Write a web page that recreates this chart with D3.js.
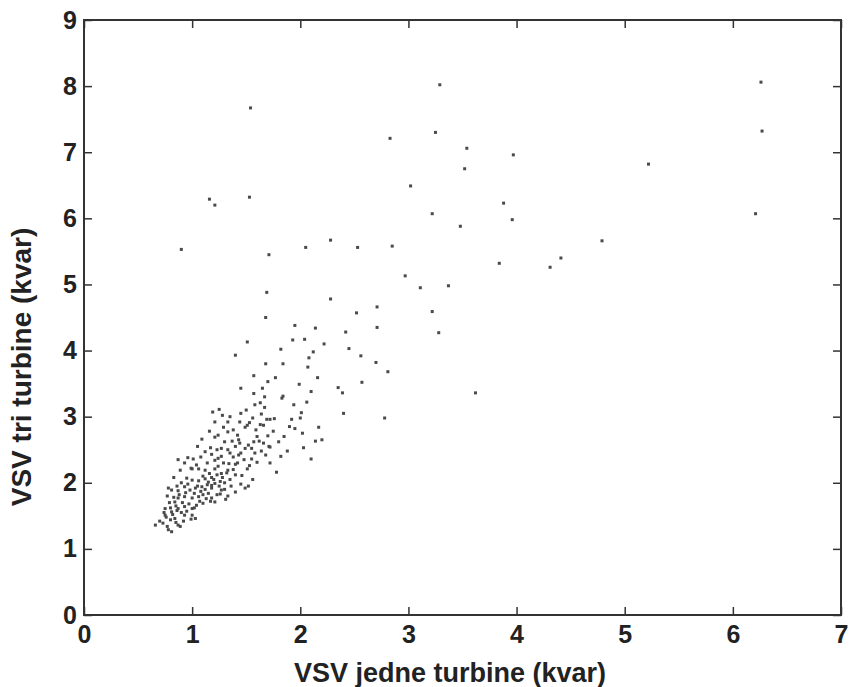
<!DOCTYPE html>
<html>
<head>
<meta charset="utf-8">
<script src="https://cdn.jsdelivr.net/npm/d3@7"></script>
<style>
  html, body { margin: 0; padding: 0; background: #fff; }
  svg { display: block; }
</style>
</head>
<body>
<svg id="chart" width="849" height="687"></svg>
<script>
// ---- data (x = VSV jedne turbine, y = VSV tri turbine), kvar ----
const xTicks = [0, 1, 2, 3, 4, 5, 6, 7];
const yTicks = [0, 1, 2, 3, 4, 5, 6, 7, 8, 9];
const xTitle = "VSV jedne turbine (kvar)";
const yTitle = "VSV tri turbine (kvar)";

const upperPoints = [
  [1.54,7.67],[3.29,8.02],[6.26,8.06],[6.27,7.32],[5.22,6.82],[6.21,6.07],[3.97,6.96],
  [3.88,6.23],[3.96,5.98],[4.79,5.66],[4.41,5.40],[4.31,5.26],[3.84,5.32],[3.25,7.30],
  [2.83,7.21],[3.54,7.06],[3.52,6.75],[3.02,6.49],[3.22,6.07],[3.48,5.88],[2.28,5.67],
  [2.05,5.56],[2.53,5.56],[2.85,5.58],[2.97,5.13],[3.11,4.95],[3.37,4.98],[1.16,6.29],
  [1.21,6.20],[1.53,6.32],[0.90,5.53],[1.71,5.45]
];

const midPoints = [
  [2.28,4.78],[2.52,4.57],[2.71,4.66],[3.22,4.59],[2.71,4.35],[3.28,4.27],[2.14,4.34],
  [2.42,4.28],[2.04,4.17],[2.22,4.10],[2.12,3.98],[2.45,4.03],[2.56,3.92],[2.08,3.89],
  [1.69,4.88],[1.68,4.50],[1.95,4.38],[1.51,4.13],[1.93,4.16],[1.40,3.93],[1.82,4.02],
  [2.70,3.82],[2.81,3.68],[1.68,3.80],[1.84,3.80],[2.07,3.75],[1.57,3.62],[1.77,3.59],
  [1.70,3.53],[2.16,3.59],[2.57,3.52],[1.45,3.43],[1.65,3.43],[1.99,3.49],[2.35,3.44],
  [2.39,3.36],[2.10,3.38],[1.57,3.35],[1.67,3.30],[1.84,3.31],[3.62,3.36],[2.78,2.98],
  [2.40,3.05],[2.17,2.84],[2.20,2.65],[2.00,2.98],[2.06,3.22]
];

const clusterPoints = [
  [1.83,3.28],[1.63,3.21],[1.94,3.18],[1.67,3.14],[1.50,3.10],[2.01,3.06],[1.64,3.04],
  [1.69,2.96],[1.72,2.96],[1.76,2.97],[1.92,2.96],[1.33,2.92],[1.44,2.92],[1.53,2.91],
  [1.51,2.87],[1.49,2.84],[1.63,2.88],[1.66,2.87],[1.59,2.80],[1.33,2.77],[1.70,2.71],
  [1.37,2.63],[1.43,2.65],[1.44,2.60],[1.57,2.62],[1.62,2.63],[1.52,2.57],[1.49,2.52],
  [1.40,2.55],[1.71,2.55],[2.03,2.53],[1.33,2.50],[2.14,2.63],[2.10,2.36],[1.72,2.54],
  [1.78,2.16],[1.60,2.31],[1.55,2.36],[1.51,2.21],[1.46,2.11],[1.40,2.12],[1.49,1.92],
  [1.52,1.95],[1.33,1.80],[1.34,2.29],[1.40,2.28],[1.38,2.39],[1.43,2.42],[1.55,2.52],
  [1.33,2.19],[1.25,3.11],[1.19,3.07],[1.21,2.92],[1.16,2.78],[1.21,2.69],[1.09,2.66],
  [1.17,2.53],[1.23,2.50],[1.27,2.52],[1.08,2.39],[0.96,2.38],[1.01,2.36],[1.21,2.34],
  [1.24,2.37],[0.99,2.22],[1.06,2.21],[1.12,2.19],[1.21,2.21],[1.24,2.25],
  [1.30,2.62],[1.24,2.72],[1.29,2.84],[1.38,2.80],[1.42,2.72],[1.35,3.00],[1.28,3.02],
  [1.58,3.18],[1.56,2.98],[1.45,3.05],[1.60,2.70],[1.66,2.60],[1.75,2.78],[1.80,2.62],
  [1.85,2.70],[1.88,2.48],[1.82,2.40],[1.95,2.82],[2.02,2.75],[1.90,2.85],[1.72,2.30],
  [1.68,2.42],[1.64,2.48],[1.58,2.45],[1.53,2.26],[1.56,2.05],[1.45,1.98],[1.40,1.86]
];

const densePoints = [
  [0.89,2.19],[1.00,2.21],[0.83,2.08],[0.95,2.07],[1.00,2.04],[1.06,2.03],[1.12,2.06],
  [1.18,2.08],[1.23,2.12],[1.27,2.14],[0.78,1.92],[0.81,1.89],[0.87,1.88],[0.93,1.94],
  [0.98,1.89],[1.03,1.92],[1.09,1.94],[1.14,1.97],[1.18,1.92],[1.21,1.99],[1.26,2.02],
  [1.27,1.89],[1.23,1.82],[1.18,1.77],[1.15,1.84],[1.10,1.82],[1.06,1.79],[1.00,1.77],
  [0.93,1.79],[0.87,1.77],[0.84,1.71],[0.75,1.61],[0.81,1.56],[0.87,1.61],[0.93,1.64],
  [1.00,1.61],[1.04,1.66],[1.10,1.69],[1.17,1.72],[1.21,1.71],[0.66,1.36],[0.73,1.39],
  [0.77,1.34],[0.78,1.29],[0.80,1.44],[0.84,1.46],[0.89,1.34],[0.93,1.51],[1.00,1.51],
  [1.03,1.46],[0.75,1.51],[0.87,1.36],[0.81,1.26],
  [0.70,1.42],[0.76,1.48],[0.82,1.52],[0.86,1.58],[0.90,1.55],[0.95,1.57],[0.97,1.68],
  [0.91,1.70],[0.85,1.65],[0.79,1.70],[0.77,1.80],[0.83,1.78],[0.88,1.82],[0.94,1.85],
  [1.02,1.84],[1.05,1.95],[1.08,1.87],[1.12,1.90],[1.15,2.01],[1.18,1.96],[1.13,1.76],
  [1.07,1.72],[1.02,1.62],[0.99,1.45],[0.92,1.42],[0.85,1.40],[0.74,1.55],[0.80,1.62],
  [1.10,2.10],[1.16,2.14],[1.20,2.05],[1.25,1.95],[1.30,2.00],[1.28,2.08],[1.32,2.15],
  [1.35,2.05],[1.30,1.90],[1.36,1.95],[1.38,2.20],[1.42,2.30],[1.29,2.30],[1.27,2.40],
  [1.35,2.45],[1.45,2.45],[1.48,2.35],[1.26,1.83],[1.31,1.75],[0.96,1.98],[0.90,2.00],
  [0.86,1.95],[1.04,2.27],[0.93,2.30],[0.87,2.35],[1.14,2.30],[1.18,2.43],[1.12,2.47],
  [1.05,2.55]
];

// ---- layout ----
const svg = d3.select("#chart");
const mLeft = 84, mRight = 841, mTop = 20, mBottom = 615;
const x = d3.scaleLinear().domain([0, 7]).range([mLeft, mRight]);
const y = d3.scaleLinear().domain([0, 9]).range([mBottom, mTop]);
const font = "'Liberation Sans', Arial, sans-serif";
const axisColor = "#333";

// points
const allPoints = [].concat(upperPoints, midPoints, clusterPoints, densePoints);
svg.append("g").selectAll("rect")
  .data(allPoints)
  .enter().append("rect")
  .attr("x", d => x(d[0]) - 1.5)
  .attr("y", d => y(d[1]) - 1.5)
  .attr("width", 3)
  .attr("height", 3)
  .attr("fill", "#4a4a4a");

function styleAxis(g, showText) {
  g.select(".domain").remove();
  g.selectAll(".tick line").attr("stroke", axisColor).attr("stroke-width", 1.5);
  g.selectAll(".tick text")
    .attr("fill", "#222")
    .style("font-family", font)
    .style("font-weight", "bold")
    .style("font-size", "25px")
    .style("display", showText ? null : "none");
}

// bottom
svg.append("g").attr("transform", `translate(0,${mBottom})`)
  .call(d3.axisBottom(x).tickValues(xTicks).tickFormat(d3.format("d"))
    .tickSizeInner(-8).tickSizeOuter(0).tickPadding(10))
  .call(g => styleAxis(g, true));
// top
svg.append("g").attr("transform", `translate(0,${mTop})`)
  .call(d3.axisTop(x).tickValues(xTicks).tickSizeInner(-8).tickSizeOuter(0))
  .call(g => styleAxis(g, false));
// left
svg.append("g").attr("transform", `translate(${mLeft},0)`)
  .call(d3.axisLeft(y).tickValues(yTicks).tickFormat(d3.format("d"))
    .tickSizeInner(-8).tickSizeOuter(0).tickPadding(7))
  .call(g => styleAxis(g, true));
// right
svg.append("g").attr("transform", `translate(${mRight},0)`)
  .call(d3.axisRight(y).tickValues(yTicks).tickSizeInner(-8).tickSizeOuter(0))
  .call(g => styleAxis(g, false));

// frame
svg.append("rect")
  .attr("x", mLeft).attr("y", mTop)
  .attr("width", mRight - mLeft).attr("height", mBottom - mTop)
  .attr("fill", "none").attr("stroke", axisColor).attr("stroke-width", 2);

// titles
svg.append("text")
  .attr("x", 450).attr("y", 682)
  .attr("text-anchor", "middle")
  .style("font-family", font).style("font-weight", "bold").style("font-size", "27px")
  .attr("fill", "#222")
  .text(xTitle);

svg.append("text")
  .attr("transform", `translate(31,367) rotate(-90)`)
  .attr("text-anchor", "middle")
  .style("font-family", font).style("font-weight", "bold").style("font-size", "28px")
  .attr("fill", "#222")
  .text(yTitle);
</script>
</body>
</html>
